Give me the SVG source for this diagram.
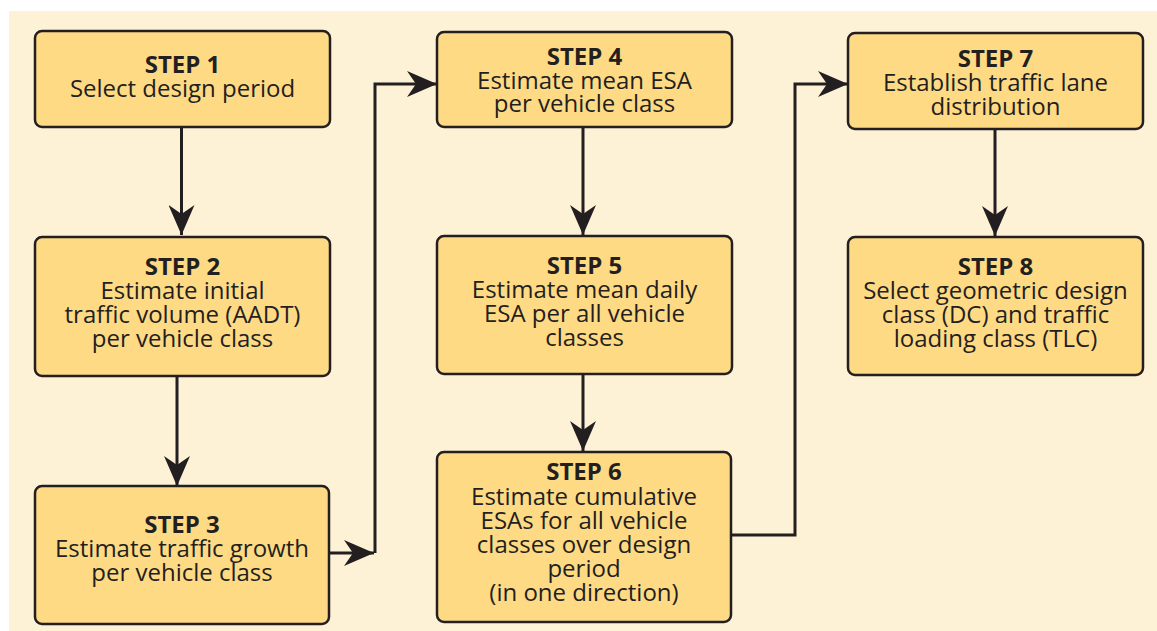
<svg xmlns="http://www.w3.org/2000/svg" width="1157" height="631" viewBox="0 0 1157 631">
<defs>
<style>
.box{fill:#FFDA85;stroke:#231F20;stroke-width:2.5}
.t{font-family:"Open Sans","Noto Sans",sans-serif;font-size:24px;fill:#231F20;text-anchor:middle}
.b{font-weight:bold}
.ln{fill:none;stroke:#231F20;stroke-width:3}
</style>
<marker id="ah" viewBox="0 0 30 26" refX="30" refY="13" markerWidth="30" markerHeight="26" markerUnits="userSpaceOnUse" orient="auto">
<path d="M30,13 L0,0 L9,13 L0,26 Z" fill="#231F20"/>
</marker>
</defs>
<rect x="0" y="0" width="1157" height="631" fill="#FFFFFF"/>
<rect x="9" y="11" width="1148" height="620" fill="#FEF2D6"/>
<g id="connectors">
<line class="ln" x1="181.5" y1="127" x2="181.5" y2="235" marker-end="url(#ah)"/>
<line class="ln" x1="177" y1="376" x2="177" y2="486" marker-end="url(#ah)"/>
<polyline class="ln" points="330,553 374,553" marker-end="url(#ah)"/>
<polyline class="ln" points="375,553 375,84 437,84" marker-end="url(#ah)"/>
<line class="ln" x1="583" y1="127" x2="583" y2="235" marker-end="url(#ah)"/>
<line class="ln" x1="583" y1="374" x2="583" y2="451" marker-end="url(#ah)"/>
<polyline class="ln" points="731,535 795,535 795,84 848,84" marker-end="url(#ah)"/>
<line class="ln" x1="995" y1="129" x2="995" y2="236" marker-end="url(#ah)"/>
</g>
<g id="step1">
<rect class="box" x="35" y="31" width="295" height="96" rx="7"/>
<text class="t" x="182.5" y="73"><tspan class="b">STEP 1</tspan><tspan x="182.5" dy="24">Select design period</tspan></text>
</g>
<g id="step2">
<rect class="box" x="35" y="237" width="295" height="139" rx="7"/>
<text class="t" x="182.5" y="275"><tspan class="b">STEP 2</tspan><tspan x="182.5" dy="24">Estimate initial</tspan><tspan x="182.5" dy="24">traffic volume (AADT)</tspan><tspan x="182.5" dy="24">per vehicle class</tspan></text>
</g>
<g id="step3">
<rect class="box" x="35" y="486" width="294" height="138" rx="7"/>
<text class="t" x="182" y="533"><tspan class="b">STEP 3</tspan><tspan x="182" dy="24">Estimate traffic growth</tspan><tspan x="182" dy="24">per vehicle class</tspan></text>
</g>
<g id="step4">
<rect class="box" x="437" y="32" width="295" height="95" rx="7"/>
<text class="t" x="584.5" y="65"><tspan class="b">STEP 4</tspan><tspan x="584.5" dy="24">Estimate mean ESA</tspan><tspan x="584.5" dy="23">per vehicle class</tspan></text>
</g>
<g id="step5">
<rect class="box" x="437" y="236" width="295" height="138" rx="7"/>
<text class="t" x="584.5" y="274"><tspan class="b">STEP 5</tspan><tspan x="584.5" dy="24">Estimate mean daily</tspan><tspan x="584.5" dy="24">ESA per all vehicle</tspan><tspan x="584.5" dy="24">classes</tspan></text>
</g>
<g id="step6">
<rect class="box" x="437" y="452" width="294" height="170" rx="7"/>
<text class="t" x="584" y="480"><tspan class="b">STEP 6</tspan><tspan x="584" dy="25">Estimate cumulative</tspan><tspan x="584" dy="24">ESAs for all vehicle</tspan><tspan x="584" dy="24">classes over design</tspan><tspan x="584" dy="24">period</tspan><tspan x="584" dy="24">(in one direction)</tspan></text>
</g>
<g id="step7">
<rect class="box" x="848" y="33" width="295" height="96" rx="7"/>
<text class="t" x="995.5" y="67"><tspan class="b">STEP 7</tspan><tspan x="995.5" dy="24">Establish traffic lane</tspan><tspan x="995.5" dy="24">distribution</tspan></text>
</g>
<g id="step8">
<rect class="box" x="848" y="237" width="295" height="138" rx="7"/>
<text class="t" x="995.5" y="275"><tspan class="b">STEP 8</tspan><tspan x="995.5" dy="24">Select geometric design</tspan><tspan x="995.5" dy="24">class (DC) and traffic</tspan><tspan x="995.5" dy="24">loading class (TLC)</tspan></text>
</g>
</svg>
